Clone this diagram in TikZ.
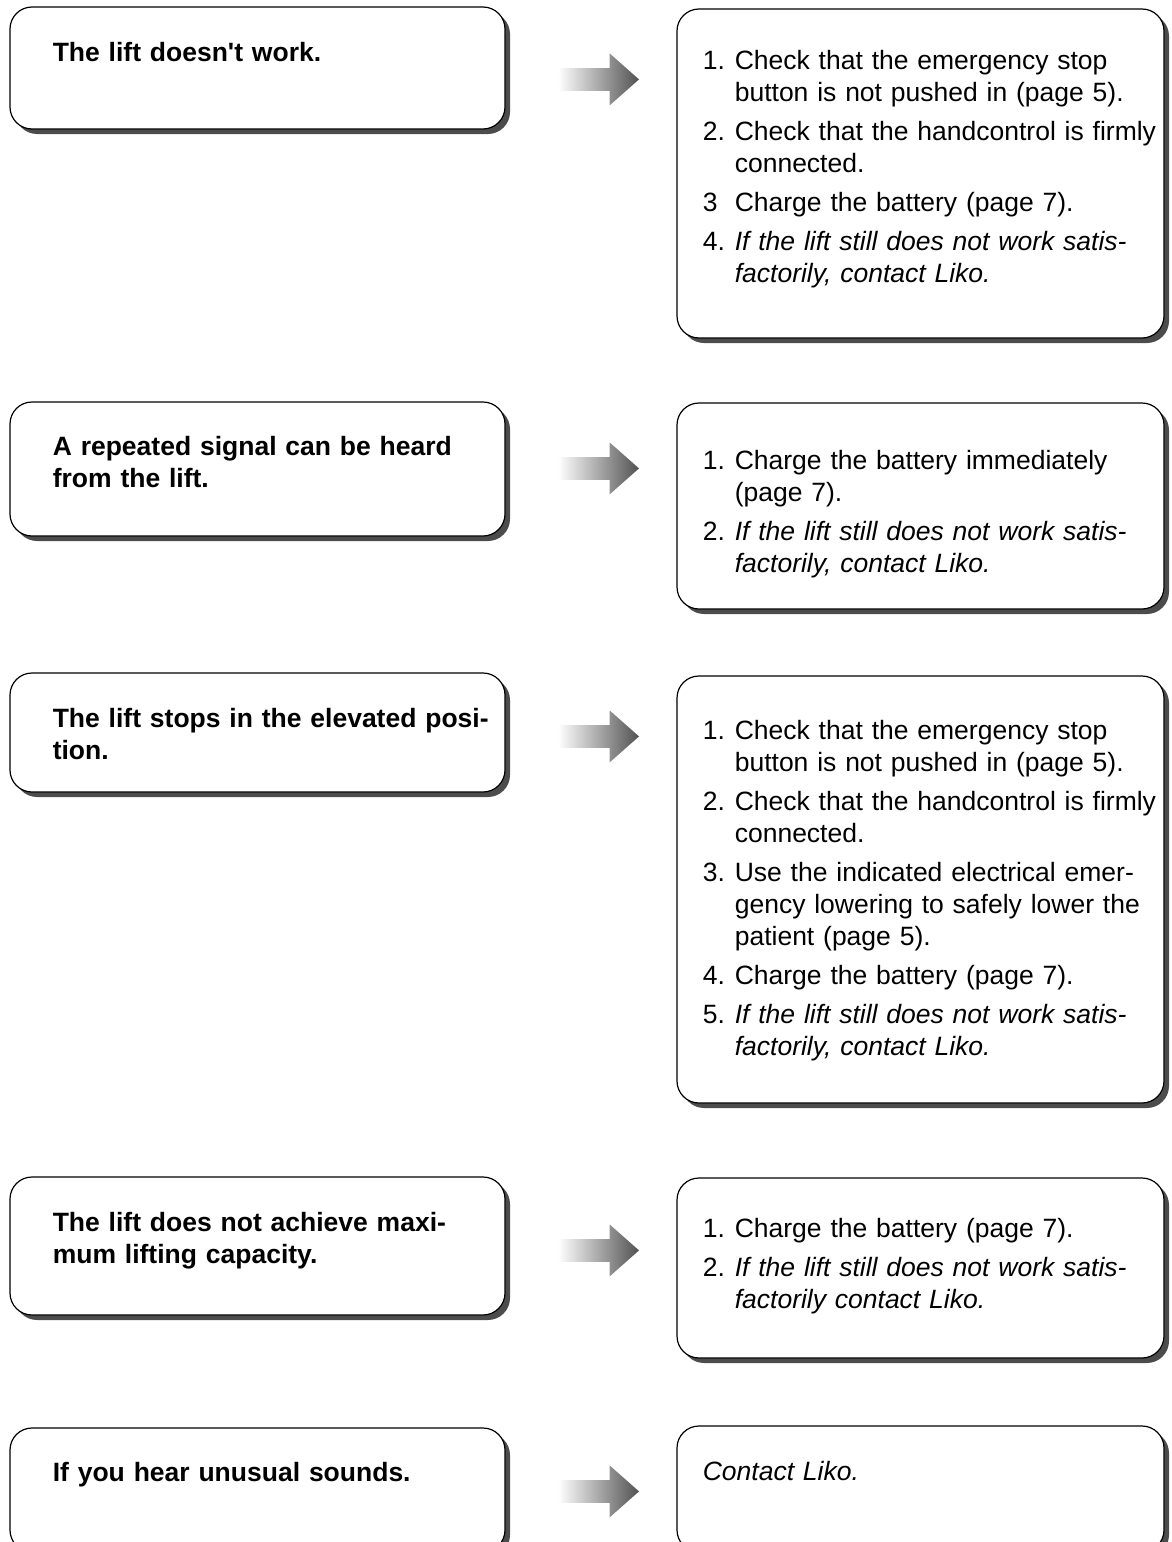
\documentclass[tikz,border=0pt]{standalone}
\usepackage{fontspec}
\setmainfont{Liberation Sans}
\usepackage{tikz}
\usetikzlibrary{shapes.arrows,shadows,calc,fit}
\usetikzlibrary{positioning}
\newcommand\fixitem[2]{\noindent\hangindent=16pt\hangafter=1\makebox[16pt][l]{#1}{\let\\\newline #2}\par\vspace{3.5pt}}

\tikzset{
  box/.style={draw, line width=0.6pt, rounded corners=11pt, fill=white, inner sep=0pt,
    drop shadow={shadow xshift=2.5pt, shadow yshift=-2.5pt, fill=black!70, opacity=1}},
  cause/.style={box},
  remedy/.style={box},
  causetext/.style={anchor=base west, inner sep=0pt, text width=225pt,
    font=\fontsize{13.25}{16}\selectfont\bfseries},
  remedytext/.style={anchor=base west, inner sep=0pt, text width=232pt,
    font=\fontsize{13.25}{16}\selectfont},
  fatarrow/.style={shape=single arrow, draw=none, inner xsep=0pt, inner ysep=5.5pt,
    single arrow head extend=7.25pt, single arrow tip angle=83, minimum height=40.5pt,
    anchor=tail, left color=white, right color=black!68}
}

\begin{document}
\begin{tikzpicture}[x=0.5pt, y=-0.5pt]
  \useasboundingbox (0,0) rectangle (1172,1542);
  \clip (0,0) rectangle (1172,1542);

  % the lift doesn't work
  \node[cause, fit={(10,7) (505,129)}] (c1) {};
  \node[remedy, fit={(677,9) (1164,338)}] (r1) {};
  \node[fatarrow] (a1) at ($(c1.north east)+(52,73)$) {};
  \node[causetext] (ct1) at ($(c1.north west)+(43,55)$) {The lift doesn\textquotesingle t work.};
  \node[remedytext] (rt1) at ($(r1.north west)+(26,61)$) {%
    \fixitem{1.}{Check that the emergency stop\\button is not pushed in (page 5).}
    \fixitem{2.}{Check that the handcontrol is firmly\\connected.}
    \fixitem{3}{Charge the battery (page 7).}
    \fixitem{4.}{\textit{If the lift still does not work satis-\\factorily, contact Liko.}}};

  % repeated signal
  \node[cause, fit={(10,402) (505,536)}] (c2) {};
  \node[remedy, fit={(677,403) (1164,609)}] (r2) {};
  \node[fatarrow] (a2) at ($(c2.north east)+(52,67)$) {};
  \node[causetext] (ct2) at ($(c2.north west)+(43,54)$) {A repeated signal can be heard\\from the lift.};
  \node[remedytext] (rt2) at ($(r2.north west)+(26,67)$) {%
    \fixitem{1.}{Charge the battery immediately\\(page 7).}
    \fixitem{2.}{\textit{If the lift still does not work satis-\\factorily, contact Liko.}}};

  % stops in elevated position
  \node[cause, fit={(10,673) (505,792)}] (c3) {};
  \node[remedy, fit={(677,676) (1164,1103)}] (r3) {};
  \node[fatarrow] (a3) at ($(c3.north east)+(52,64)$) {};
  \node[causetext] (ct3) at ($(c3.north west)+(43,55)$) {The lift stops in the elevated posi-\\tion.};
  \node[remedytext] (rt3) at ($(r3.north west)+(26,64)$) {%
    \fixitem{1.}{Check that the emergency stop\\button is not pushed in (page 5).}
    \fixitem{2.}{Check that the handcontrol is firmly\\connected.}
    \fixitem{3.}{Use the indicated electrical emer-\\gency lowering to safely lower the\\patient (page 5).}
    \fixitem{4.}{Charge the battery (page 7).}
    \fixitem{5.}{\textit{If the lift still does not work satis-\\factorily, contact Liko.}}};

  % lifting capacity
  \node[cause, fit={(10,1177) (505,1315)}] (c4) {};
  \node[remedy, fit={(677,1178) (1164,1358)}] (r4) {};
  \node[fatarrow] (a4) at ($(c4.north east)+(52,74)$) {};
  \node[causetext] (ct4) at ($(c4.north west)+(43,55)$) {The lift does not achieve maxi-\\mum lifting capacity.};
  \node[remedytext] (rt4) at ($(r4.north west)+(26,60)$) {%
    \fixitem{1.}{Charge the battery (page 7).}
    \fixitem{2.}{\textit{If the lift still does not work satis-\\factorily contact Liko.}}};

  % unusual sounds
  \node[cause, fit={(10,1428) (505,1552)}] (c5) {};
  \node[remedy, fit={(677,1426) (1164,1552)}] (r5) {};
  \node[fatarrow] (a5) at ($(c5.north east)+(52,64)$) {};
  \node[causetext] (ct5) at ($(c5.north west)+(43,54)$) {If you hear unusual sounds.};
  \node[remedytext] (rt5) at ($(r5.north west)+(26,55)$) {\textit{Contact Liko.}};
\end{tikzpicture}
\end{document}
